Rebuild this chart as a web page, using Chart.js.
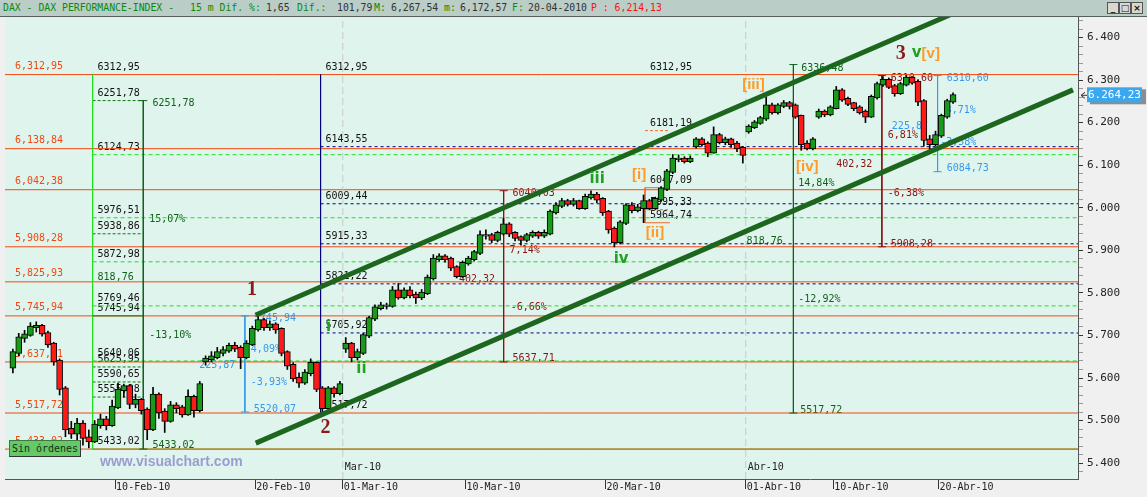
<!DOCTYPE html>
<html>
<head>
<meta charset="utf-8">
<script src="https://cdn.jsdelivr.net/npm/chart.js@4.4.1/dist/chart.umd.min.js"></script>
<style>
  html, body { margin: 0; padding: 0; background: #f0f0f0; }
  #wrap { position: relative; width: 1147px; height: 497px; overflow: hidden; background: #f0f0f0; }
  #c { position: absolute; left: 0; top: 0; }
  #head { position: absolute; left: 0; top: 0; width: 1147px; height: 16px; background: #bacdc7; border-bottom: 1px solid #55605c; font: 9.8px 'DejaVu Sans Mono', monospace; }
  #head span { position: absolute; top: 2px; white-space: pre; }
  .g { color: #0a8a0a; }
  .k { color: #333; }
  .r { color: #ff1010; }
  .btn { position: absolute; top: 2px; width: 10px; height: 10px; background: #d8d8d0; border: 1px solid #555; font: bold 9px 'DejaVu Sans', sans-serif; line-height: 10px; text-align: center; color: #111; }
  #sin { position: absolute; left: 9px; top: 440px; width: 70px; height: 15px; background: #66c866; border: 1px solid #3d7a3d; border-right-color: #333; border-bottom-color: #333; font: 10px 'DejaVu Sans Mono', monospace; line-height: 15px; text-align: center; color: #163016; }
  #wm { position: absolute; left: 100px; top: 453px; font: bold 14px 'Liberation Sans', Arial, sans-serif; color: #9c9cd2; }
</style>
</head>
<body>
<div id="wrap">
  <canvas id="c" width="1147" height="497"></canvas>
  <div id="head">
    <span class="g" style="left:3px">DAX - DAX PERFORMANCE-INDEX -</span>
    <span class="g" style="left:190px">15 m Dif. %:</span>
    <span class="k" style="left:266px">1,65</span>
    <span class="g" style="left:297px">Dif.:</span>
    <span class="k" style="left:337px">101,79</span>
    <span class="g" style="left:374px">M:</span>
    <span class="k" style="left:391px">6,267,54</span>
    <span class="g" style="left:444px">m:</span>
    <span class="k" style="left:460px">6,172,57</span>
    <span class="g" style="left:512px">F:</span>
    <span class="k" style="left:528px">20-04-2010</span>
    <span class="r" style="left:591px">P : 6,214,13</span>
    <div class="btn" style="left:1107px">_</div>
    <div class="btn" style="left:1119px">□</div>
    <div class="btn" style="left:1131px">×</div>
  </div>
  <div id="wm">www.visualchart.com</div>
  <div id="sin">Sin órdenes</div>
</div>
<script>
// 15 min DAX, three bars per trading day (02-Feb-10 .. 20-Abr-10)
const barsPerDay = 3

const opens = [
  5625, 5660, 5695, 5702, 5720, 5722, 5705, 5680, 5640, 5575, 5480, 5470,
  5492, 5460, 5452, 5490, 5502, 5490, 5532, 5572, 5580, 5540, 5548, 5525,
  5480, 5560, 5520, 5500, 5535, 5530, 5515, 5555, 5525, 5640, 5645, 5650,
  5660, 5665, 5675, 5670, 5650, 5680, 5715, 5735, 5720, 5725, 5715, 5660,
  5630, 5600, 5590, 5612, 5635, 5575, 5530, 5575, 5565, 5670, 5680, 5650,
  5660, 5700, 5740, 5765, 5770, 5770, 5805, 5790, 5805, 5795, 5790, 5800,
  5835, 5880, 5885, 5880, 5860, 5840, 5870, 5880, 5895, 5935, 5935, 5925,
  5940, 5960, 5940, 5930, 5925, 5935, 5940, 5935, 5940, 5990, 6005, 6015,
  6010, 6015, 6000, 6025, 6030, 6020, 5990, 5950, 5920, 5965, 6005, 5995,
  6000, 6015, 6000, 6020, 6045, 6085, 6115, 6115, 6110, 6145, 6160, 6150,
  6130, 6170, 6155, 6160, 6150, 6140, 6180, 6190, 6200, 6210, 6240, 6225,
  6240, 6245, 6240, 6215, 6150, 6140, 6215, 6225, 6220, 6235, 6275, 6255,
  6245, 6235, 6225, 6215, 6260, 6290, 6300, 6285, 6270, 6290, 6305, 6295,
  6250, 6160, 6150, 6170, 6215, 6250
]
const highs = [
  5668, 5705, 5712, 5730, 5732, 5726, 5710, 5684, 5645, 5580, 5498, 5505,
  5500, 5478, 5500, 5515, 5510, 5548, 5588, 5586, 5584, 5562, 5552, 5530,
  5578, 5565, 5528, 5545, 5542, 5536, 5572, 5560, 5592, 5652, 5662, 5672,
  5674, 5682, 5684, 5676, 5688, 5722, 5746, 5740, 5734, 5730, 5718, 5664,
  5636, 5612, 5620, 5645, 5638, 5580, 5580, 5580, 5592, 5695, 5684, 5668,
  5705, 5745, 5772, 5778, 5776, 5815, 5822, 5812, 5815, 5802, 5808, 5842,
  5890, 5892, 5890, 5884, 5864, 5875, 5886, 5900, 5946, 5948, 5940, 5945,
  5975, 5965, 5944, 5934, 5940, 5946, 5945, 5948, 5995, 6012, 6022, 6020,
  6022, 6018, 6032, 6040, 6036, 6024, 5994, 5955, 5970, 6010, 6012, 6008,
  6030, 6020, 6025, 6050, 6090, 6125, 6124, 6120, 6122, 6165, 6165, 6155,
  6190, 6175, 6166, 6164, 6156, 6144, 6195, 6205, 6215, 6260, 6246, 6245,
  6252, 6250, 6244, 6218, 6158, 6165, 6232, 6230, 6240, 6285, 6280, 6260,
  6248, 6240, 6230, 6265, 6295, 6308, 6305, 6290, 6295, 6311, 6308, 6300,
  6254, 6170, 6180, 6220, 6255, 6270
]
const lows = [
  5612, 5652, 5684, 5698, 5708, 5698, 5672, 5630, 5560, 5462, 5458, 5450,
  5442, 5436, 5448, 5482, 5478, 5486, 5528, 5555, 5528, 5530, 5515, 5455,
  5476, 5505, 5472, 5496, 5518, 5508, 5512, 5508, 5520, 5630, 5638, 5645,
  5652, 5660, 5662, 5622, 5645, 5676, 5710, 5712, 5712, 5705, 5652, 5620,
  5592, 5578, 5585, 5605, 5568, 5518, 5526, 5555, 5560, 5660, 5638, 5642,
  5655, 5695, 5735, 5760, 5762, 5766, 5785, 5786, 5788, 5775, 5784, 5796,
  5830, 5874, 5872, 5852, 5835, 5836, 5865, 5875, 5890, 5926, 5918, 5920,
  5936, 5932, 5922, 5912, 5920, 5930, 5928, 5930, 5936, 5985, 6000, 6004,
  6004, 5996, 5996, 6020, 6012, 5982, 5940, 5908, 5915, 5960, 5988, 5990,
  5965, 5995, 5996, 6015, 6040, 6080, 6108, 6105, 6106, 6140, 6145, 6120,
  6128, 6150, 6148, 6142, 6132, 6105, 6175, 6186, 6196, 6205, 6220, 6220,
  6235, 6232, 6210, 6135, 6136, 6136, 6210, 6214, 6216, 6232, 6250, 6240,
  6228, 6220, 6200, 6212, 6255, 6285, 6280, 6262, 6266, 6286, 6290, 6240,
  6145, 6132, 6145, 6165, 6210, 6245
]
const closes = [
  5660, 5695, 5702, 5720, 5722, 5705, 5680, 5640, 5575, 5480, 5470, 5492,
  5460, 5452, 5490, 5502, 5490, 5532, 5572, 5580, 5540, 5548, 5525, 5480,
  5560, 5520, 5500, 5535, 5530, 5515, 5555, 5525, 5585, 5645, 5650, 5660,
  5665, 5675, 5670, 5650, 5680, 5715, 5735, 5720, 5725, 5715, 5660, 5630,
  5600, 5590, 5612, 5635, 5575, 5530, 5575, 5565, 5585, 5680, 5650, 5660,
  5700, 5740, 5765, 5770, 5770, 5805, 5790, 5805, 5795, 5790, 5800, 5835,
  5880, 5885, 5880, 5860, 5840, 5870, 5880, 5895, 5935, 5935, 5925, 5940,
  5960, 5940, 5930, 5925, 5935, 5940, 5935, 5940, 5990, 6005, 6015, 6010,
  6015, 6000, 6025, 6030, 6020, 5990, 5950, 5920, 5965, 6005, 5995, 6000,
  6015, 6000, 6020, 6045, 6085, 6115, 6115, 6110, 6115, 6160, 6150, 6130,
  6170, 6155, 6160, 6150, 6140, 6125, 6190, 6200, 6210, 6240, 6225, 6240,
  6245, 6240, 6215, 6150, 6140, 6160, 6225, 6220, 6235, 6275, 6255, 6245,
  6235, 6225, 6215, 6260, 6290, 6300, 6285, 6270, 6290, 6305, 6295, 6250,
  6160, 6150, 6170, 6215, 6250, 6264
]
const lastQuote = 6264.23

// x axis: trading-day index, tick labels
const tickIdx = [6, 14, 19, 26, 34, 42, 47, 53]
const tickText = ['10-Feb-10', '20-Feb-10', '01-Mar-10', '10-Mar-10', '20-Mar-10', '01-Abr-10', '10-Abr-10', '20-Abr-10']
const monthIdx = [19, 42]
const monthText = ['Mar-10', 'Abr-10']
const yLabels = [5400, 5500, 5600, 5700, 5800, 5900, 6000, 6100, 6200, 6300, 6400]

// study levels
const redLevels = [6312.95, 6138.84, 6042.38, 5908.28, 5825.93, 5745.94, 5637.71, 5517.72, 5433.02]
const greenBoxLevels = [6312.95, 6251.78, 6124.73, 5976.51, 5938.86, 5872.98, 5769.46, 5745.94, 5640.06, 5625.95, 5590.65, 5555.28, 5433.02]
const greenLongLevels = [6124.73, 5976.51, 5872.98, 5769.46, 5640.06]
const greenShortLevels = [6251.78, 5938.86, 5625.95, 5590.65, 5555.28]
const navyLevels = [6312.95, 6143.55, 6009.44, 5915.33, 5821.22, 5705.92, 5517.72]
const orangeBoxLevels = [6312.95, 6181.19, 6047.09, 5995.33, 5964.74]

// [x index, top, bottom]
const arrows = [
  [7.61, 6251.78, 5433.02, '#10621a'],
  [13.41, 5745.94, 5520.07, '#3399ee'],
  [28.18, 6040.03, 5637.71, '#8b1010'],
  [44.72, 6336.48, 5517.72, '#10621a'],
  [49.77, 6310.60, 5908.28, '#8b1010'],
  [52.95, 6310.60, 6084.73, '#3399ee']
]
// trend channel [x, value] ends
const channelUpper = [[14.03, 5748], [56.0, 6495]]
const channelLower = [[14.03, 5447], [60.68, 6277]]

// notes: [x index, value, text, colour]
const notes = [
  [5.0, 5837.3, '818,76', '#10621a'],
  [8.13, 6246.1, '6251,78', '#10621a'],
  [7.95, 5973.5, '15,07%', '#10621a'],
  [7.95, 5701.0, '-13,10%', '#10621a'],
  [8.13, 5442.5, '5433,02', '#10621a'],
  [13.92, 5740.9, '5745,94', '#3399ee'],
  [13.75, 5668.1, '4,09%', '#3399ee'],
  [10.80, 5630.5, '225,87', '#3399ee'],
  [13.75, 5590.6, '-3,93%', '#3399ee'],
  [13.92, 5527.1, '5520,07', '#3399ee'],
  [28.69, 6034.6, '6040,03', '#8b1010'],
  [28.52, 5900.7, '7,14%', '#8b1010'],
  [25.63, 5832.6, '402,32', '#8b1010'],
  [28.58, 5766.8, '-6,66%', '#8b1010'],
  [28.69, 5647.0, '5637,71', '#8b1010'],
  [45.17, 6328.3, '6336,48', '#10621a'],
  [45.0, 6058.1, '14,84%', '#10621a'],
  [42.05, 5921.9, '818,76', '#10621a'],
  [45.0, 5785.6, '-12,92%', '#10621a'],
  [45.11, 5524.8, '5517,72', '#10621a'],
  [50.28, 6304.8, '6310,60', '#8b1010'],
  [50.11, 6170.9, '6,81%', '#8b1010'],
  [47.16, 6102.8, '402,32', '#8b1010'],
  [50.11, 6034.6, '-6,38%', '#8b1010'],
  [50.28, 5914.8, '5908,28', '#8b1010'],
  [53.47, 6304.8, '6310,60', '#3399ee'],
  [53.41, 6229.7, '3,71%', '#3399ee'],
  [50.34, 6192.1, '225,87', '#3399ee'],
  [53.1, 6154.5, '-3,58%', '#3399ee'],
  [53.47, 6093.4, '6084,73', '#3399ee']
]
// elliott wave counts: [x, value, text, kind]
const waves = [
  [13.81, 5806.7, '1', 'major'],
  [18.01, 5482.5, '2', 'major'],
  [50.85, 6361.2, '3', 'major'],
  [51.76, 6363.6, 'v', 'minor'],
  [52.56, 6361.2, '[v]', 'minute'],
  [18.18, 5719.8, 'i', 'minor'],
  [20.06, 5621.1, 'ii', 'minor'],
  [33.52, 6067.5, 'iii', 'minor'],
  [34.89, 5879.6, 'iv', 'minor'],
  [35.91, 6076.9, '[i]', 'minute'],
  [36.82, 5940.7, '[ii]', 'minute'],
  [42.44, 6288.4, '[iii]', 'minute'],
  [45.51, 6095.7, '[iv]', 'minute']
]

const X_MIN = -0.284
const X_MAX = 60.966
const Y_MIN = 5362.7
const Y_MAX = 6448.2
const BOX_X = 4.716
const NAVY_X = 17.73
const OBOX = [36.25, 37.67]

const COLORS = {
  red: '#f2480f',
  green: '#1ee01e',
  dkgreen: '#0e7a0e',
  navy: '#000080',
  channel: '#1d661d',
  up: '#1a9a1a',
  down: '#ff1a1a',
  grey: '#c8c8c8'
}

const fmt = v => v.toFixed(2).replace('.', ',')
const fmtT = v => fmt(v).replace(/^(\d)(\d{3})/, '$1,$2')
const fmtAxis = v => String(v).replace(/^(\d)(\d{3})$/, '$1.$2')

const candleX = closes.map((c, i) => Math.floor(i / barsPerDay) + (i % barsPerDay + 0.5) / barsPerDay)

function hline(v, x0, x1, color, dash, order) {
  return {
    type: 'line',
    data: [{ x: x0, y: v }, { x: x1, y: v }],
    borderColor: color,
    borderWidth: 1,
    borderDash: dash || [],
    pointRadius: 0,
    order: order || 20
  }
}
function vline(x, v0, v1, color, dash, ends) {
  return {
    type: 'line',
    data: [{ x: x, y: v0 }, { x: x, y: v1 }],
    borderColor: color,
    borderWidth: 1,
    borderDash: dash || [],
    pointRadius: ends ? 4 : 0,
    pointStyle: 'line',
    pointBorderColor: color,
    pointBorderWidth: 1,
    order: 18
  }
}

const datasets = []
monthIdx.forEach(m => datasets.push(vline(m, Y_MIN, Y_MAX, COLORS.grey, [7, 4])))
redLevels.forEach(v => datasets.push(hline(v, X_MIN, X_MAX, COLORS.red, null, 19)))
greenLongLevels.forEach(v => datasets.push(hline(v, BOX_X, X_MAX, COLORS.green, [4, 3])))
datasets.push(hline(5433.02, BOX_X, X_MAX, COLORS.green))
greenShortLevels.forEach(v => datasets.push(hline(v, BOX_X, arrows[0][0], COLORS.dkgreen, [3, 2])))
datasets.push(hline(5745.94, BOX_X, arrows[0][0], COLORS.dkgreen, null, 17))
navyLevels.slice(1, 6).forEach(v => datasets.push(hline(v, NAVY_X, X_MAX, COLORS.navy, [3, 3])))
datasets.push(vline(BOX_X, 6312.95, 5433.02, COLORS.green))
datasets.push(vline(NAVY_X, 6312.95, 5517.72, COLORS.navy))
arrows.forEach(a => datasets.push(vline(a[0], a[1], a[2], a[3], null, true)))
datasets.push({
  type: 'line',
  data: [{ x: OBOX[1], y: 6047.09 }, { x: OBOX[0], y: 6047.09 }, { x: OBOX[0], y: 5964.74 }, { x: OBOX[1], y: 5964.74 }],
  borderColor: '#f26a2a', borderWidth: 1, pointRadius: 0, order: 18
})
datasets.push(hline(6181.19, OBOX[0], OBOX[1], '#f26a2a', [3, 2], 18))
datasets.push(hline(5995.33, OBOX[0], OBOX[1], '#f26a2a', [3, 2], 18))

// candles: wicks then bodies
datasets.push({
  type: 'bar',
  data: candleX.map((x, i) => ({ x: x, y: [lows[i], highs[i]] })),
  backgroundColor: '#000',
  barThickness: 1,
  grouped: false,
  order: 6
})
datasets.push({
  type: 'bar',
  data: candleX.map((x, i) => ({ x: x, y: [Math.min(opens[i], closes[i]) - 2, Math.max(opens[i], closes[i]) + 2] })),
  backgroundColor: closes.map((c, i) => c >= opens[i] ? COLORS.up : COLORS.down),
  borderColor: '#000',
  borderWidth: 1,
  borderSkipped: false,
  barThickness: 6,
  grouped: false,
  order: 5
})

// channel
;[channelUpper, channelLower].forEach(ch => datasets.push({
  type: 'line',
  data: ch.map(p => ({ x: p[0], y: p[1] })),
  borderColor: COLORS.channel,
  borderWidth: 5,
  pointRadius: 0,
  order: 1
}))

const studyText = {
  id: 'studyText',
  beforeDraw(chart) {
    const { ctx, chartArea: a } = chart
    ctx.save()
    ctx.fillStyle = '#e0f4ee'
    ctx.fillRect(a.left, a.top, a.right - a.left, a.bottom - a.top)
    ctx.restore()
  },
  beforeDatasetsDraw(chart) {
    const { ctx, scales } = chart
    const px = v => scales.x.getPixelForValue(v)
    const py = v => scales.y.getPixelForValue(v)
    ctx.save()
    ctx.font = '10px "DejaVu Sans Mono", monospace'
    ctx.textBaseline = 'middle'
    ctx.textAlign = 'left'
    ctx.fillStyle = COLORS.red
    redLevels.forEach(v => ctx.fillText(fmtT(v), px(0.28), py(v) - 8))
    ctx.fillStyle = '#111'
    greenBoxLevels.forEach(v => ctx.fillText(fmt(v), px(5.0), py(v) - 7.5))
    navyLevels.forEach(v => ctx.fillText(fmt(v), px(18.01), py(v) - 7.5))
    orangeBoxLevels.forEach(v => ctx.fillText(fmt(v), px(36.53), py(v) - 7.5))
    notes.forEach(n => {
      ctx.fillStyle = n[3]
      ctx.fillText(n[2], px(n[0]), py(n[1]))
    })
    ctx.fillStyle = '#222'
    monthIdx.forEach((m, i) => ctx.fillText(monthText[i], px(m) + 2, py(5390.9)))
    ctx.restore()
  },
  afterDatasetsDraw(chart) {
    const { ctx, scales } = chart
    ctx.save()
    ctx.textBaseline = 'middle'
    ctx.textAlign = 'center'
    waves.forEach(w => {
      if (w[3] === 'major') {
        ctx.font = 'bold 20px "Liberation Serif", serif'
        ctx.fillStyle = '#8b1a1a'
      } else if (w[3] === 'minor') {
        ctx.font = 'bold 15px "DejaVu Sans", sans-serif'
        ctx.fillStyle = '#23a023'
      } else {
        ctx.font = 'bold 15px "Liberation Sans", sans-serif'
        ctx.fillStyle = '#ff9a26'
      }
      ctx.fillText(w[2], scales.x.getPixelForValue(w[0]), scales.y.getPixelForValue(w[1]))
    })
    ctx.restore()
  },
  afterDraw(chart) {
    const { ctx, scales, chartArea: a } = chart
    const y = scales.y.getPixelForValue(lastQuote)
    ctx.save()
    ctx.fillStyle = '#8d8d8d'
    ctx.fillRect(a.right + 12, y - 6, 56, 15)
    ctx.fillStyle = '#3aa8f0'
    ctx.fillRect(a.right + 9, y - 8, 55, 15)
    ctx.fillStyle = '#fff'
    ctx.font = '11px "DejaVu Sans Mono", monospace'
    ctx.textBaseline = 'middle'
    ctx.fillText('6.264,23', a.right + 10, y)
    ctx.strokeStyle = '#333'
    ctx.beginPath()
    ctx.moveTo(a.right + 7, y - 3); ctx.lineTo(a.right + 3, y); ctx.lineTo(a.right + 7, y + 3)
    ctx.moveTo(a.right + 3, y); ctx.lineTo(a.right + 9, y)
    ctx.stroke()
    ctx.restore()
  }
}

new Chart(document.getElementById('c'), {
  type: 'bar',
  data: { datasets },
  plugins: [studyText],
  options: {
    responsive: false,
    animation: false,
    events: [],
    layout: { padding: { top: 17, left: 0, right: 0, bottom: 0 } },
    plugins: { legend: { display: false }, tooltip: { enabled: false } },
    scales: {
      x: {
        type: 'linear',
        min: X_MIN,
        max: X_MAX,
        offset: false,
        afterFit: s => { s.height = 18 },
        afterBuildTicks: s => { s.ticks = tickIdx.map(v => ({ value: v })) },
        ticks: {
          autoSkip: false,
          maxRotation: 0,
          align: 'start',
          labelOffset: 1,
          padding: -8,
          color: '#222',
          font: { family: 'DejaVu Sans Mono', size: 10 },
          callback: (v, i) => tickText[i]
        },
        grid: { offset: false, drawOnChartArea: false, tickLength: 10, color: '#333' },
        border: { display: true, color: '#555' }
      },
      y: {
        type: 'linear',
        position: 'right',
        min: Y_MIN,
        max: Y_MAX,
        afterFit: s => { s.width = 69 },
        afterBuildTicks: s => {
          const t = []
          for (let v = 5380; v <= 6440; v += 20) t.push({ value: v })
          s.ticks = t
        },
        ticks: {
          autoSkip: false,
          padding: 4,
          color: '#222',
          font: { family: 'DejaVu Sans Mono', size: 11 },
          callback: v => yLabels.includes(v) ? fmtAxis(v) : ''
        },
        grid: {
          drawOnChartArea: false,
          tickLength: 5,
          tickColor: c => (c.tick && c.tick.value % 100 === 0) ? '#333' : '#999'
        },
        border: { display: true, color: '#555' }
      }
    }
  }
})
</script>
</body>
</html>
